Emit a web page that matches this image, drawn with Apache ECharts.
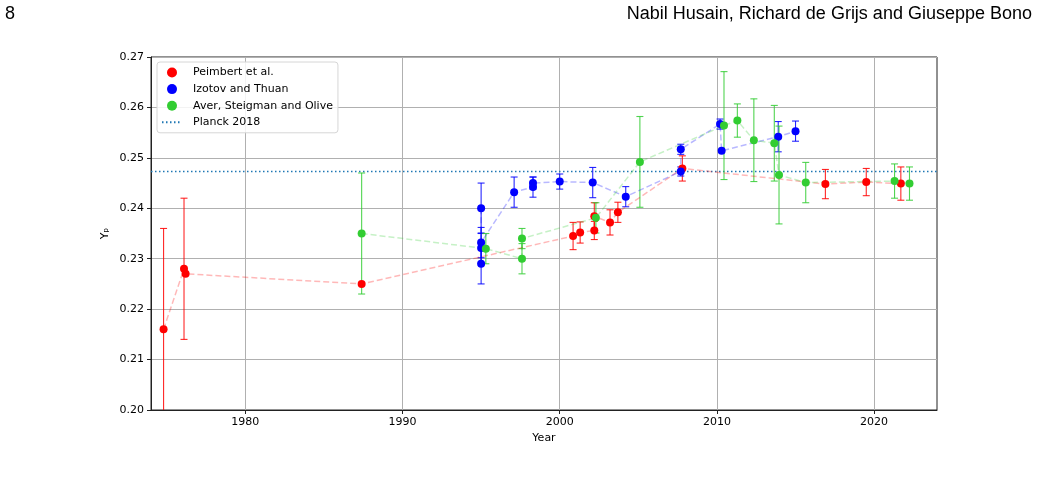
<!DOCTYPE html>
<html>
<head>
<meta charset="utf-8">
<script src="https://cdn.jsdelivr.net/npm/echarts@6/dist/echarts.min.js"></script>
<style>
  html, body { margin: 0; padding: 0; background: #fff; }
  #chart { width: 1038px; height: 477px; }
</style>
</head>
<body>
<div id="chart"></div>
<script>
const chart = echarts.init(document.getElementById('chart'));

// values
const peimbertYears = [1974.8, 1976.1, 1976.2, 1987.4, 2000.85, 2001.3, 2002.2, 2002.2, 2003.2, 2003.7, 2007.8, 2016.9, 2019.5, 2021.7];
const peimbertYp = [0.216, 0.228, 0.227, 0.225, 0.2345, 0.2352, 0.2356, 0.2384, 0.2372, 0.2392, 0.2479, 0.2448, 0.2452, 0.2449];
const peimbertErr = [0.020, 0.014, 0, 0, 0.0027, 0.0021, 0.0018, 0.0027, 0.0025, 0.002, 0.0025, 0.0029, 0.0027, 0.0033];

const izotovYears = [1995.0, 1995.0, 1995.0, 1995.0, 1997.1, 1998.3, 1998.3, 2000.0, 2002.1, 2004.2, 2007.7, 2007.7, 2010.2, 2010.3, 2013.9, 2015.0];
const izotovYp = [0.240, 0.229, 0.2321, 0.2332, 0.2432, 0.2442, 0.2450, 0.2453, 0.2451, 0.2423, 0.2473, 0.2517, 0.2567, 0.2514, 0.2542, 0.2553];
const izotovErr = [0.005, 0.004, 0.003, 0.003, 0.003, 0.002, 0.0012, 0.0015, 0.003, 0.002, 0.0009, 0.001, 0.001, 0, 0.003, 0.002];

const averYears = [1987.4, 1995.3, 1997.6, 1997.6, 2002.3, 2005.1, 2010.45, 2011.3, 2012.35, 2013.65, 2013.95, 2015.65, 2021.3, 2022.25];
const averYp = [0.235, 0.232, 0.230, 0.234, 0.2381, 0.2492, 0.2564, 0.2574, 0.2535, 0.2529, 0.2466, 0.2451, 0.2454, 0.2449];
const averErr = [0.012, 0.003, 0.003, 0.002, 0.003, 0.009, 0.0107, 0.0033, 0.0082, 0.0075, 0.0097, 0.004, 0.0034, 0.0033];

const planckYp = 0.2473;

const xTicks = [1980, 1990, 2000, 2010, 2020];
const xMin = 1974;
const xMax = 2024;
const yMin = 0.20;
const yMax = 0.27;

const font = 'DejaVu Sans';

function points(years, values) {
  return years.map((y, i) => [y, values[i]]);
}

function bars(years, values, errs) {
  return years.map((y, i) => [y, values[i] - errs[i], values[i] + errs[i]]);
}

function errorBars(color) {
  return function (params, api) {
    const x = api.value(0);
    const low = api.value(1);
    const high = api.value(2);
    if (high - low <= 0) {
      return null;
    }
    const clipped = low < yMin;
    const lo = api.coord([x, Math.max(low, yMin)]);
    const hi = api.coord([x, Math.min(high, yMax)]);
    const w = 3.5;
    const style = { stroke: color, lineWidth: 1.1, opacity: 0.85 };
    const children = [
      { type: 'line', shape: { x1: lo[0], y1: lo[1], x2: hi[0], y2: hi[1] }, style: style },
      { type: 'line', shape: { x1: hi[0] - w, y1: hi[1], x2: hi[0] + w, y2: hi[1] }, style: style }
    ];
    if (!clipped) {
      children.push({ type: 'line', shape: { x1: lo[0] - w, y1: lo[1], x2: lo[0] + w, y2: lo[1] }, style: style });
    }
    return { type: 'group', children: children };
  };
}

function dataSeries(name, color, years, values) {
  return {
    name: name,
    type: 'line',
    data: points(years, values),
    symbol: 'circle',
    symbolSize: 8,
    z: 4,
    itemStyle: { color: color, opacity: 1 },
    lineStyle: { color: color, opacity: 0.28, width: 1.5, type: [6, 3] }
  };
}

function errSeries(name, color, years, values, errs) {
  return {
    name: name,
    type: 'custom',
    data: bars(years, values, errs),
    renderItem: errorBars(color),
    encode: { x: 0, y: [1, 2] },
    z: 3,
    silent: true
  };
}

chart.setOption({
  animation: false,
  backgroundColor: '#fff',
  textStyle: { fontFamily: font },
  graphic: [
    {
      type: 'text', left: 5, top: 5,
      style: { text: '8', font: '18px "Liberation Sans"', fill: '#000' }
    },
    {
      type: 'text', right: 6, top: 5,
      style: { text: 'Nabil Husain, Richard de Grijs and Giuseppe Bono', font: '18px "Liberation Sans"', fill: '#000' }
    }
  ],
  grid: {
    left: 151,
    right: 101,
    top: 57,
    bottom: 67,
    show: true,
    borderColor: '#222',
    borderWidth: 1
  },
  legend: {
    orient: 'vertical',
    left: 157,
    top: 62,
    padding: [5, 5, 5, 4],
    itemWidth: 20,
    itemHeight: 10,
    itemGap: 5.6,
    backgroundColor: 'rgba(255,255,255,0.85)',
    borderColor: '#d6d6d6',
    borderWidth: 1,
    borderRadius: 3,
    textStyle: { fontFamily: font, fontSize: 11, color: '#000', lineHeight: 10, padding: [0, 0, 0, 6] },
    data: [
      { name: 'Peimbert et al.', icon: 'circle' },
      { name: 'Izotov and Thuan', icon: 'circle' },
      { name: 'Aver, Steigman and Olive', icon: 'circle' },
      { name: 'Planck 2018', itemStyle: { opacity: 0 } }
    ]
  },
  xAxis: {
    type: 'value',
    min: xMin,
    max: xMax,
    name: 'Year',
    nameLocation: 'middle',
    nameGap: 23,
    nameTextStyle: { fontFamily: font, fontSize: 11, color: '#000' },
    axisLine: { show: true, lineStyle: { color: '#222', width: 1 } },
    axisTick: { show: true, length: 4, lineStyle: { color: '#222' }, customValues: xTicks },
    axisLabel: {
      fontFamily: font, fontSize: 11, color: '#000', margin: 7, customValues: xTicks,
      formatter: (v) => String(v)
    },
    splitLine: { show: true, lineStyle: { color: '#b0b0b0', width: 1 } }
  },
  yAxis: {
    type: 'value',
    min: yMin,
    max: yMax,
    interval: 0.01,
    name: 'Yₚ',
    nameLocation: 'middle',
    nameGap: 40,
    nameMoveOverlap: false,
    nameTextStyle: { fontFamily: font, fontSize: 11, color: '#000' },
    axisLine: { show: true, lineStyle: { color: '#222', width: 1 } },
    axisTick: { show: true, length: 4, lineStyle: { color: '#222' } },
    axisLabel: {
      fontFamily: font, fontSize: 11, color: '#000', margin: 7,
      formatter: (v) => v.toFixed(2)
    },
    splitLine: { show: true, lineStyle: { color: '#b0b0b0', width: 1 } }
  },
  series: [
    errSeries('err-peimbert', '#ff0000', peimbertYears, peimbertYp, peimbertErr),
    errSeries('err-izotov', '#0000ff', izotovYears, izotovYp, izotovErr),
    errSeries('err-aver', '#32cd32', averYears, averYp, averErr),
    dataSeries('Peimbert et al.', '#ff0000', peimbertYears, peimbertYp),
    dataSeries('Izotov and Thuan', '#0000ff', izotovYears, izotovYp),
    dataSeries('Aver, Steigman and Olive', '#32cd32', averYears, averYp),
    {
      name: 'Planck 2018',
      type: 'line',
      data: [[xMin, planckYp], [xMax, planckYp]],
      symbol: 'none',
      z: 2,
      itemStyle: { color: '#1f77b4' },
      lineStyle: { color: '#1f77b4', width: 1.5, type: [1.5, 2.5] }
    }
  ]
});
</script>
</body>
</html>
